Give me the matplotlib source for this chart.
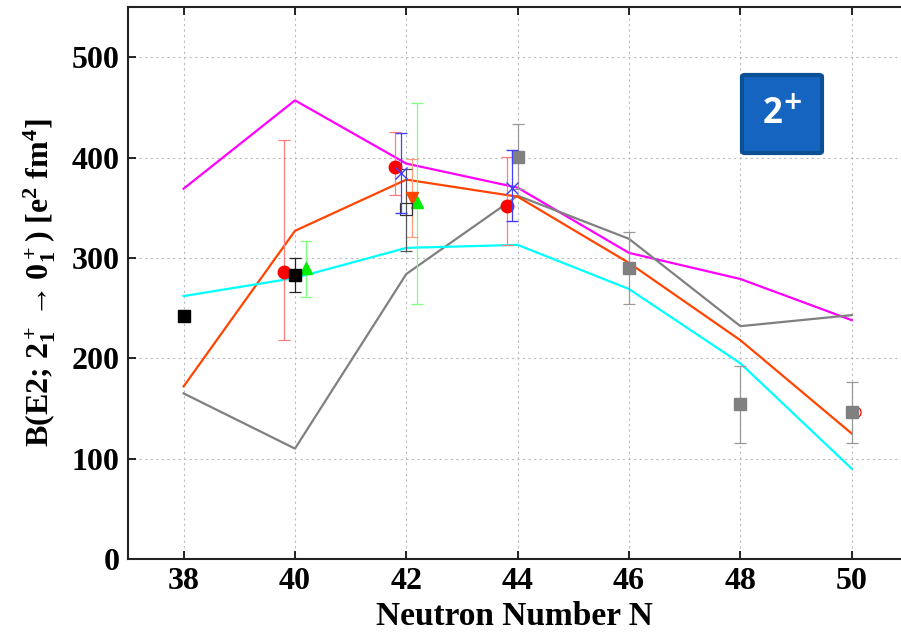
import matplotlib
matplotlib.use("Agg")
import matplotlib.pyplot as plt
from matplotlib.patches import FancyBboxPatch

# ---- data ----
N = [38, 40, 42, 44, 46, 48, 50]
magenta = [369, 457, 394, 370, 305, 279, 238]
orange = [172, 327, 378, 361, 295, 218, 125]
cyan = [262, 280, 310, 313, 269, 195, 90]
gray = [165, 110, 284, 362, 319, 232, 243]

blk_x = [38, 40]
blk_y = [242, 283]
blk_lo = [0, 17]
blk_hi = [0, 17]

red_x = [39.8, 41.8, 43.8]
red_y = [286, 391, 352]
red_lo = [68, 28, 39]
red_hi = [131, 34, 49]

grn_x = [40.2, 42.2]
grn_y = [290, 356]
grn_lo = [29, 102]
grn_hi = [27, 98]

org_x = [42.1]
org_y = [360]
org_lo = [39]
org_hi = [39]

blu_x = [41.9, 43.9]
blu_y = [385, 370]
blu_lo = [40, 33]
blu_hi = [39, 38]

opn_x = [42.0]
opn_y = [349]
opn_lo = [42]
opn_hi = [40]

gsq_x = [44, 46, 48, 50]
gsq_y = [401, 290, 154, 146]
gsq_lo = [32, 36, 38, 30]
gsq_hi = [32, 36, 38, 30]

xticks = [38, 40, 42, 44, 46, 48, 50]
yticks = [0, 100, 200, 300, 400, 500]

plt.rcParams['font.family'] = ['Liberation Serif', 'DejaVu Serif']
plt.rcParams['font.weight'] = 'bold'
plt.rcParams['mathtext.fontset'] = 'custom'
plt.rcParams['mathtext.rm'] = 'Liberation Serif:bold'
plt.rcParams['mathtext.it'] = 'Liberation Serif:bold'
plt.rcParams['mathtext.bf'] = 'Liberation Serif:bold'

fig = plt.figure(figsize=(9.01, 6.32), dpi=100)
ax = fig.add_axes([0.142, 0.1155, 0.858, 0.8734])

lw = 1.6
ax.plot(N, magenta, color='#ff00ff', lw=lw, zorder=2)
ax.plot(N, gray, color='#808080', lw=lw, zorder=2)
ax.plot(N, orange, color='#ff4500', lw=lw, zorder=2)
ax.plot(N, cyan, color='#00ffff', lw=lw, zorder=2)

ekw = dict(elinewidth=0.9, capsize=4, capthick=0.9, linestyle='none')
ax.errorbar(red_x, red_y, yerr=[red_lo, red_hi], fmt='o', color='red', ecolor='#ff7f7f', ms=9, zorder=4, **ekw)
ax.errorbar(grn_x, grn_y, yerr=[grn_lo, grn_hi], fmt='^', color='#00ee00', ecolor='#80ff80', ms=8, zorder=4, **ekw)
ax.errorbar(org_x, org_y, yerr=[org_lo, org_hi], fmt='v', color='#ff4500', ecolor='#ff9f7f', ms=8, zorder=4, **ekw)
ax.errorbar(blu_x, blu_y, yerr=[blu_lo, blu_hi], fmt='x', color='#4040ff', ecolor='#4040ff', ms=9, mew=1.0, zorder=5, **ekw)
ax.errorbar(opn_x, opn_y, yerr=[opn_lo, opn_hi], fmt='s', mfc='none', mec='#333333', ecolor='#555555', ms=9, mew=0.9, zorder=4, **ekw)
ax.errorbar(gsq_x, gsq_y, yerr=[gsq_lo, gsq_hi], fmt='s', color='#808080', ecolor='#999999', ms=9, zorder=4, **ekw)
ax.plot([50.05], [146], 'o', mfc='none', mec='red', ms=8, mew=0.9, zorder=3)
ax.errorbar(blk_x, blk_y, yerr=[blk_lo, blk_hi], fmt='s', color='black', ecolor='#222222', ms=8, zorder=5,
            **ekw)

ax.set_xlim(37, 50.885)
ax.set_ylim(0, 550)
ax.set_xticks(xticks)
ax.set_yticks(yticks)
ax.tick_params(direction='in', length=6, width=1.2, top=True, right=False, labelsize=23)
ax.tick_params(axis='y', pad=6)
ax.tick_params(axis='x', pad=6)
for lab in ax.get_xticklabels() + ax.get_yticklabels():
    lab.set_fontweight('bold')
ax.grid(True, linestyle=(0, (2, 3)), color='#bbbbbb', lw=0.8)
ax.set_axisbelow(True)
for s in ['left', 'bottom', 'top']:
    ax.spines[s].set_linewidth(1.5)
    ax.spines[s].set_color('#222222')
ax.spines['right'].set_visible(False)

ax.set_xlabel('Neutron Number N', fontsize=24, fontweight='bold', labelpad=3)
ax.set_ylabel(r'B(E2; $2_1^+\rightarrow 0_1^+$) [e$^2$ fm$^4$]', fontsize=23, fontweight='bold', labelpad=10)

box = FancyBboxPatch((742 / 901, 1 - 153 / 632), 80 / 901, 78 / 632,
                     boxstyle='round,pad=0,rounding_size=0.003', transform=fig.transFigure,
                     facecolor='#1565c0', edgecolor='#0b4f94', lw=3, zorder=10)
fig.patches.append(box)
fig.text(782 / 901, 1 - 114 / 632, r'2$^{+}$', color='white', fontsize=25, fontweight='bold',
         family=['Open Sans', 'DejaVu Sans'], ha='center', va='center', zorder=11,
         math_fontfamily='dejavusans')

fig.savefig('out.png', dpi=100)
